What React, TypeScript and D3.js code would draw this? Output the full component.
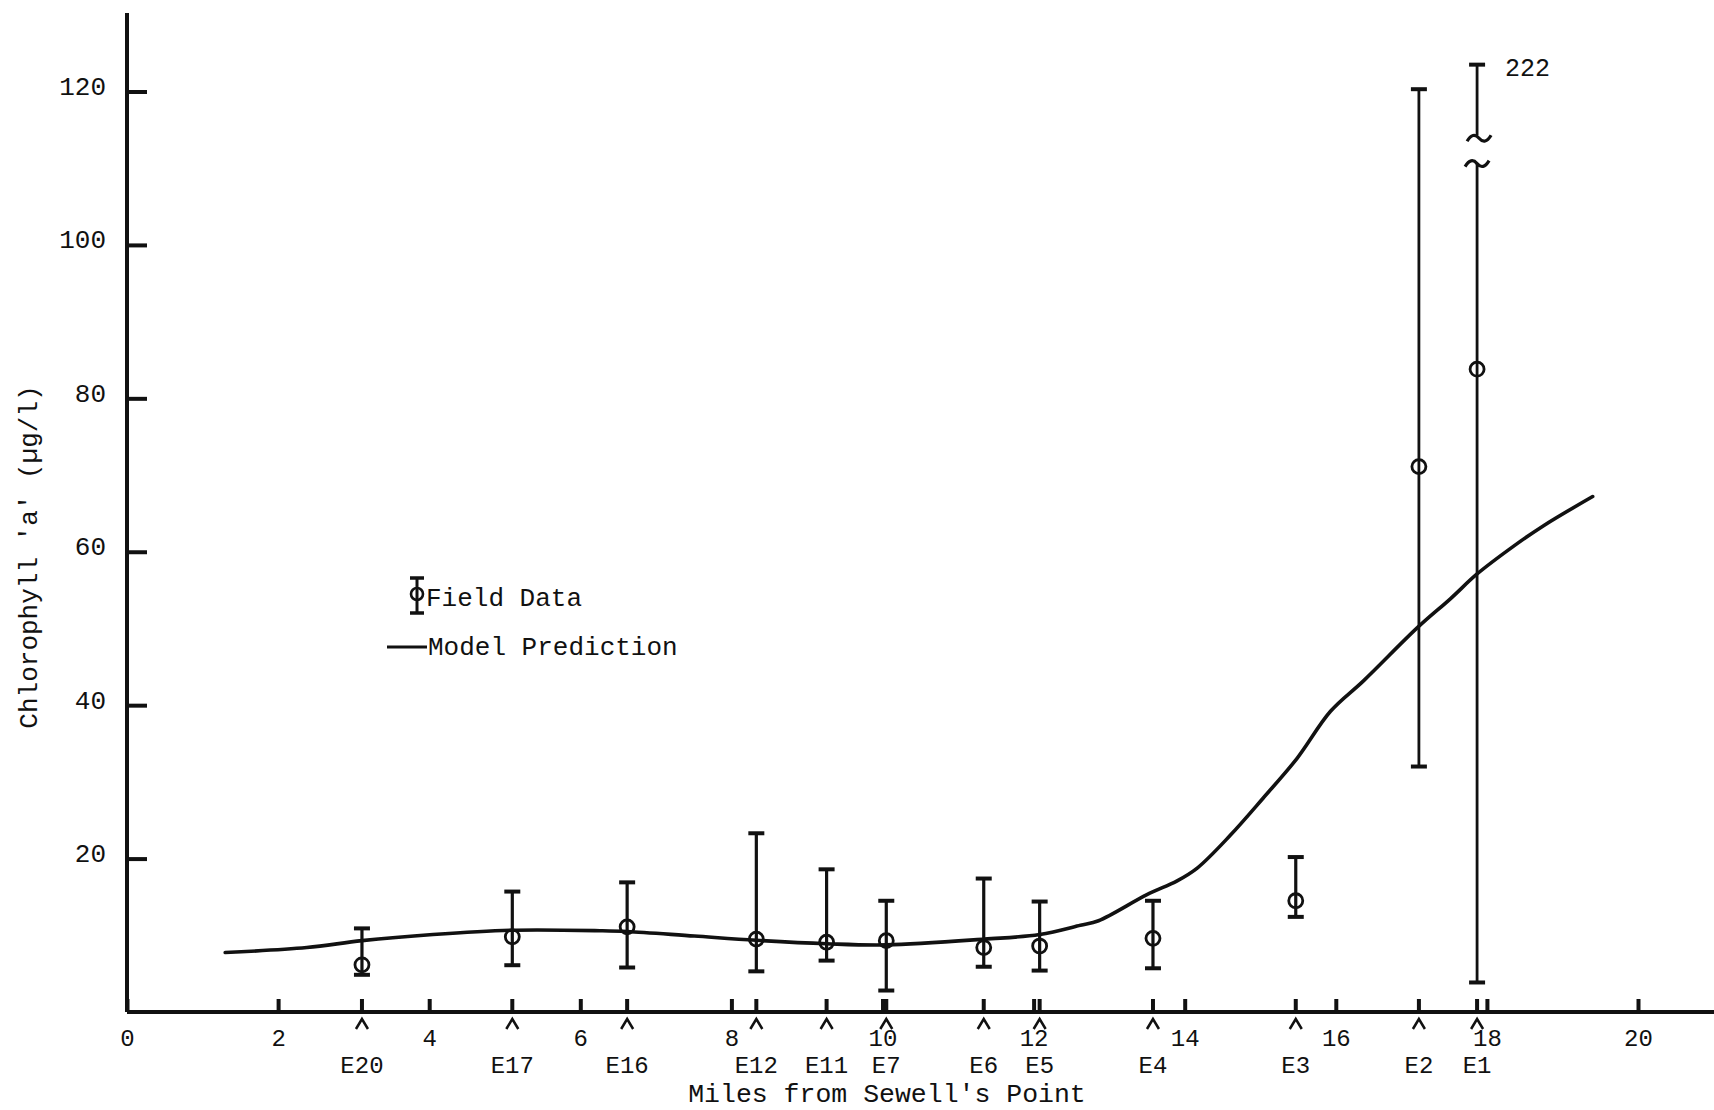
import React, { useEffect, useRef } from "react";
import * as d3 from "d3";

// field stations along the estuary
const stations = ["E20", "E17", "E16", "E12", "E11", "E7", "E6", "E5", "E4", "E3", "E2", "E1"];
const stationMiles = [3.11, 5.1, 6.62, 8.33, 9.26, 10.05, 11.34, 12.08, 13.58, 15.47, 17.1, 17.87];

// field data: mean and range, chlorophyll 'a' (ug/l)
const fieldMean = [6.15, 9.8, 11.1, 9.5, 9.1, 9.3, 8.4, 8.6, 9.6, 14.5, 71.1, 83.8];
const fieldUpper = [10.9, 15.7, 16.9, 23.3, 18.6, 14.5, 17.4, 14.4, 14.5, 20.2, 120.3, 222];
const fieldLower = [4.85, 6.1, 5.8, 5.3, 6.7, 2.8, 5.9, 5.4, 5.7, 12.4, 32.0, 3.85];

// model prediction curve
const modelMiles = [1.3, 2.38, 3.11, 4.05, 5.07, 6.26, 6.62, 7.51, 8.33, 9.26, 10.05, 11.35, 12.08, 12.62, 12.86, 13.5, 13.9, 14.17, 14.6, 15.04, 15.49, 15.93, 16.37, 17.08, 17.52, 17.87, 18.35, 18.75, 19.4];
const modelValues = [7.75, 8.4, 9.3, 10.1, 10.65, 10.6, 10.5, 9.9, 9.35, 8.9, 8.75, 9.5, 10.1, 11.3, 11.9, 15.3, 17.1, 18.8, 23.0, 27.9, 33.1, 39.2, 43.2, 50.1, 53.9, 57.1, 60.7, 63.4, 67.2];

const mileTicks = [0, 2, 4, 6, 8, 10, 12, 14, 16, 18, 20];
const chlTicks = [20, 40, 60, 80, 100, 120];

// off-scale bar (E1 upper = 222) drawn with a break
const yMaxShown = 125;
const breakTop = 123.5;
const breakHi = 114.3;
const breakLo = 110.6;

const W = 1714;
const H = 1110;
const FONT = "'Liberation Mono', 'Courier New', monospace";

function App() {
  const ref = useRef<SVGSVGElement>(null);

  useEffect(() => {
    document.body.style.margin = "0";
    const svg = d3.select(ref.current);
    svg.selectAll("*").remove();

    const x = d3.scaleLinear().domain([0, 20]).range([127, 1638]);
    const y = d3.scaleLinear().domain([0, 120]).range([1012, 91.5]);
    const ink = "#111";

    // y axis
    svg.append("line")
      .attr("x1", x(0)).attr("x2", x(0))
      .attr("y1", 13).attr("y2", y(0))
      .attr("stroke", ink).attr("stroke-width", 4);

    const yAxis = svg.append("g")
      .attr("transform", `translate(${x(0)},0)`)
      .call(d3.axisLeft(y).tickValues(chlTicks).tickSizeInner(-20).tickSizeOuter(0).tickPadding(21));
    yAxis.select(".domain").remove();
    yAxis.selectAll(".tick line").attr("stroke", ink).attr("stroke-width", 4);
    yAxis.selectAll(".tick text")
      .attr("fill", ink).attr("font-family", FONT).attr("font-size", 26)
      .attr("dy", -4).attr("dominant-baseline", "middle");

    // x axis
    svg.append("line")
      .attr("x1", x(0)).attr("x2", W)
      .attr("y1", y(0)).attr("y2", y(0))
      .attr("stroke", ink).attr("stroke-width", 4);

    const xAxis = svg.append("g")
      .attr("transform", `translate(0,${y(0)})`)
      .call(d3.axisBottom(x).tickValues(mileTicks).tickSizeInner(-13).tickSizeOuter(0));
    xAxis.select(".domain").remove();
    xAxis.selectAll(".tick line").attr("stroke", ink).attr("stroke-width", 4);
    xAxis.selectAll(".tick text")
      .attr("fill", ink).attr("font-family", FONT).attr("font-size", 24)
      .attr("y", 34).attr("dy", 0);

    // station ticks, carets and names
    const st = svg.append("g");
    stationMiles.forEach((m, i) => {
      const sx = x(m);
      st.append("line")
        .attr("x1", sx).attr("x2", sx)
        .attr("y1", y(0)).attr("y2", y(0) - 13)
        .attr("stroke", ink).attr("stroke-width", 4);
      st.append("path")
        .attr("d", `M${sx - 6},${y(0) + 17} L${sx},${y(0) + 7} L${sx + 6},${y(0) + 17}`)
        .attr("fill", "none").attr("stroke", ink).attr("stroke-width", 2.5);
      st.append("text")
        .attr("x", sx).attr("y", y(0) + 61)
        .attr("text-anchor", "middle")
        .attr("font-family", FONT).attr("font-size", 24).attr("fill", ink)
        .text(stations[i]);
    });

    // axis titles
    svg.append("text")
      .attr("x", 887).attr("y", 1102)
      .attr("text-anchor", "middle")
      .attr("font-family", FONT).attr("font-size", 26.5).attr("fill", ink)
      .text("Miles from Sewell's Point");

    svg.append("text")
      .attr("transform", "translate(37,557) rotate(-90)")
      .attr("text-anchor", "middle")
      .attr("font-family", FONT).attr("font-size", 26).attr("fill", ink)
      .text("Chlorophyll 'a' (µg/l)");

    // model prediction
    const line = d3.line<number>()
      .x((d, i) => x(modelMiles[i]))
      .y(d => y(d))
      .curve(d3.curveCatmullRom.alpha(0.5));
    svg.append("path")
      .attr("d", line(modelValues))
      .attr("fill", "none").attr("stroke", ink).attr("stroke-width", 3.6)
      .attr("stroke-linecap", "round");

    // field data error bars
    const tilde = (cx: number, cy: number) =>
      `M${cx - 12},${cy + 3} Q${cx - 6},${cy - 7} ${cx},${cy} T${cx + 12},${cy - 3}`;

    const fd = svg.append("g").attr("stroke", ink).attr("fill", "none");
    stationMiles.forEach((m, i) => {
      const sx = x(m);
      const big = fieldUpper[i] - fieldLower[i] > 60;
      const sw = big ? 2.8 : 3.2;
      const top = Math.min(fieldUpper[i], breakTop);
      if (fieldUpper[i] > yMaxShown) {
        fd.append("line").attr("x1", sx).attr("x2", sx)
          .attr("y1", y(top)).attr("y2", y(breakHi)).attr("stroke-width", sw);
        fd.append("path").attr("d", tilde(sx + 2, y(breakHi) + 3)).attr("stroke-width", 3.2);
        fd.append("path").attr("d", tilde(sx, y(breakLo))).attr("stroke-width", 3.2);
        fd.append("line").attr("x1", sx).attr("x2", sx)
          .attr("y1", y(breakLo)).attr("y2", y(fieldLower[i])).attr("stroke-width", sw);
        svg.append("text")
          .attr("x", sx + 28).attr("y", y(top) + 11)
          .attr("font-family", FONT).attr("font-size", 25).attr("fill", ink)
          .text(String(fieldUpper[i]));
      } else {
        fd.append("line").attr("x1", sx).attr("x2", sx)
          .attr("y1", y(top)).attr("y2", y(fieldLower[i])).attr("stroke-width", sw);
      }
      [top, fieldLower[i]].forEach(v => {
        fd.append("line")
          .attr("x1", sx - 8).attr("x2", sx + 8)
          .attr("y1", y(v)).attr("y2", y(v))
          .attr("stroke-width", 4);
      });
      fd.append("circle")
        .attr("cx", sx).attr("cy", y(fieldMean[i]))
        .attr("r", 7).attr("stroke-width", 2.8);
    });

    // legend
    const lg = svg.append("g");
    lg.append("line").attr("x1", 417).attr("x2", 417).attr("y1", 578).attr("y2", 613)
      .attr("stroke", ink).attr("stroke-width", 3);
    lg.append("line").attr("x1", 410).attr("x2", 424).attr("y1", 578).attr("y2", 578)
      .attr("stroke", ink).attr("stroke-width", 3.5);
    lg.append("line").attr("x1", 410).attr("x2", 424).attr("y1", 613).attr("y2", 613)
      .attr("stroke", ink).attr("stroke-width", 3.5);
    lg.append("circle").attr("cx", 417).attr("cy", 594).attr("r", 6)
      .attr("fill", "none").attr("stroke", ink).attr("stroke-width", 2.6);
    lg.append("text").attr("x", 426).attr("y", 606)
      .attr("font-family", FONT).attr("font-size", 26).attr("fill", ink)
      .text("Field Data");
    lg.append("line").attr("x1", 387).attr("x2", 427).attr("y1", 647).attr("y2", 647)
      .attr("stroke", ink).attr("stroke-width", 3);
    lg.append("text").attr("x", 428).attr("y", 655)
      .attr("font-family", FONT).attr("font-size", 26).attr("fill", ink)
      .text("Model Prediction");
  }, []);

  return (
    <svg ref={ref} width={W} height={H} style={{ display: "block", background: "#fff" }} />
  );
}

export default App;
